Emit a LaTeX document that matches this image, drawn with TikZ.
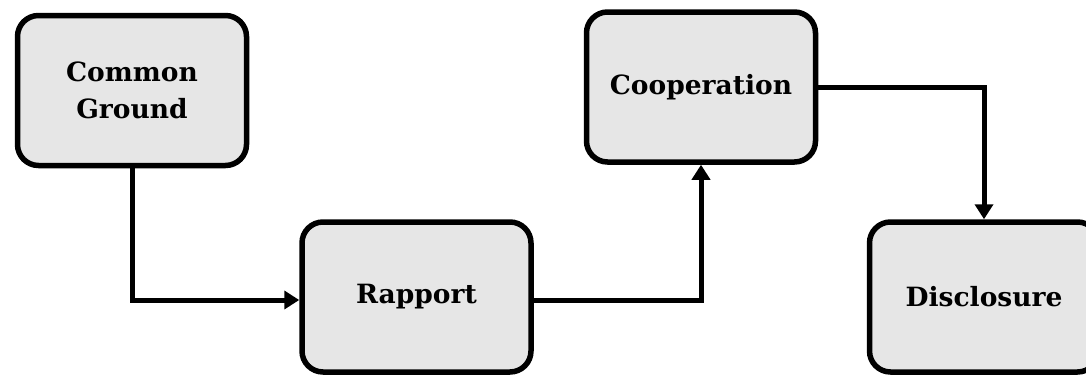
\documentclass[tikz,border=0pt]{standalone}
\usepackage{fontspec}
\setmainfont{DejaVu Serif}
\usetikzlibrary{arrows.meta}
\definecolor{boxfill}{HTML}{E6E6E6}
\begin{document}
\begin{tikzpicture}[x=1pt,y=1pt,
  stage/.style={draw=black, line width=5.5pt, fill=boxfill, rounded corners=21pt,
    minimum width=229pt, minimum height=150pt, align=center,
    font=\fontsize{26.5}{37}\selectfont\bfseries},
  flow/.style={draw=black, line width=5pt,
    -{Triangle[length=15pt,width=18pt]}}]
  \useasboundingbox (0,0) rectangle (1086,-375);
  % stages
  \node[stage] (cg)   at (132,-90.5) {Common\\Ground};
  \node[stage] (rap)  at (416.5,-297) {Rapport};
  \node[stage] (coop) at (701,-87) {Cooperation};
  \node[stage] (disc) at (984,-297) {Disclosure};
  % connectors
  \draw[flow] (cg.south) |- ([yshift=-3pt]rap.west);
  \draw[flow] ([yshift=-3pt]rap.east) -| (coop.south);
  \draw[flow] (coop.east) -| (disc.north);
\end{tikzpicture}
\end{document}
